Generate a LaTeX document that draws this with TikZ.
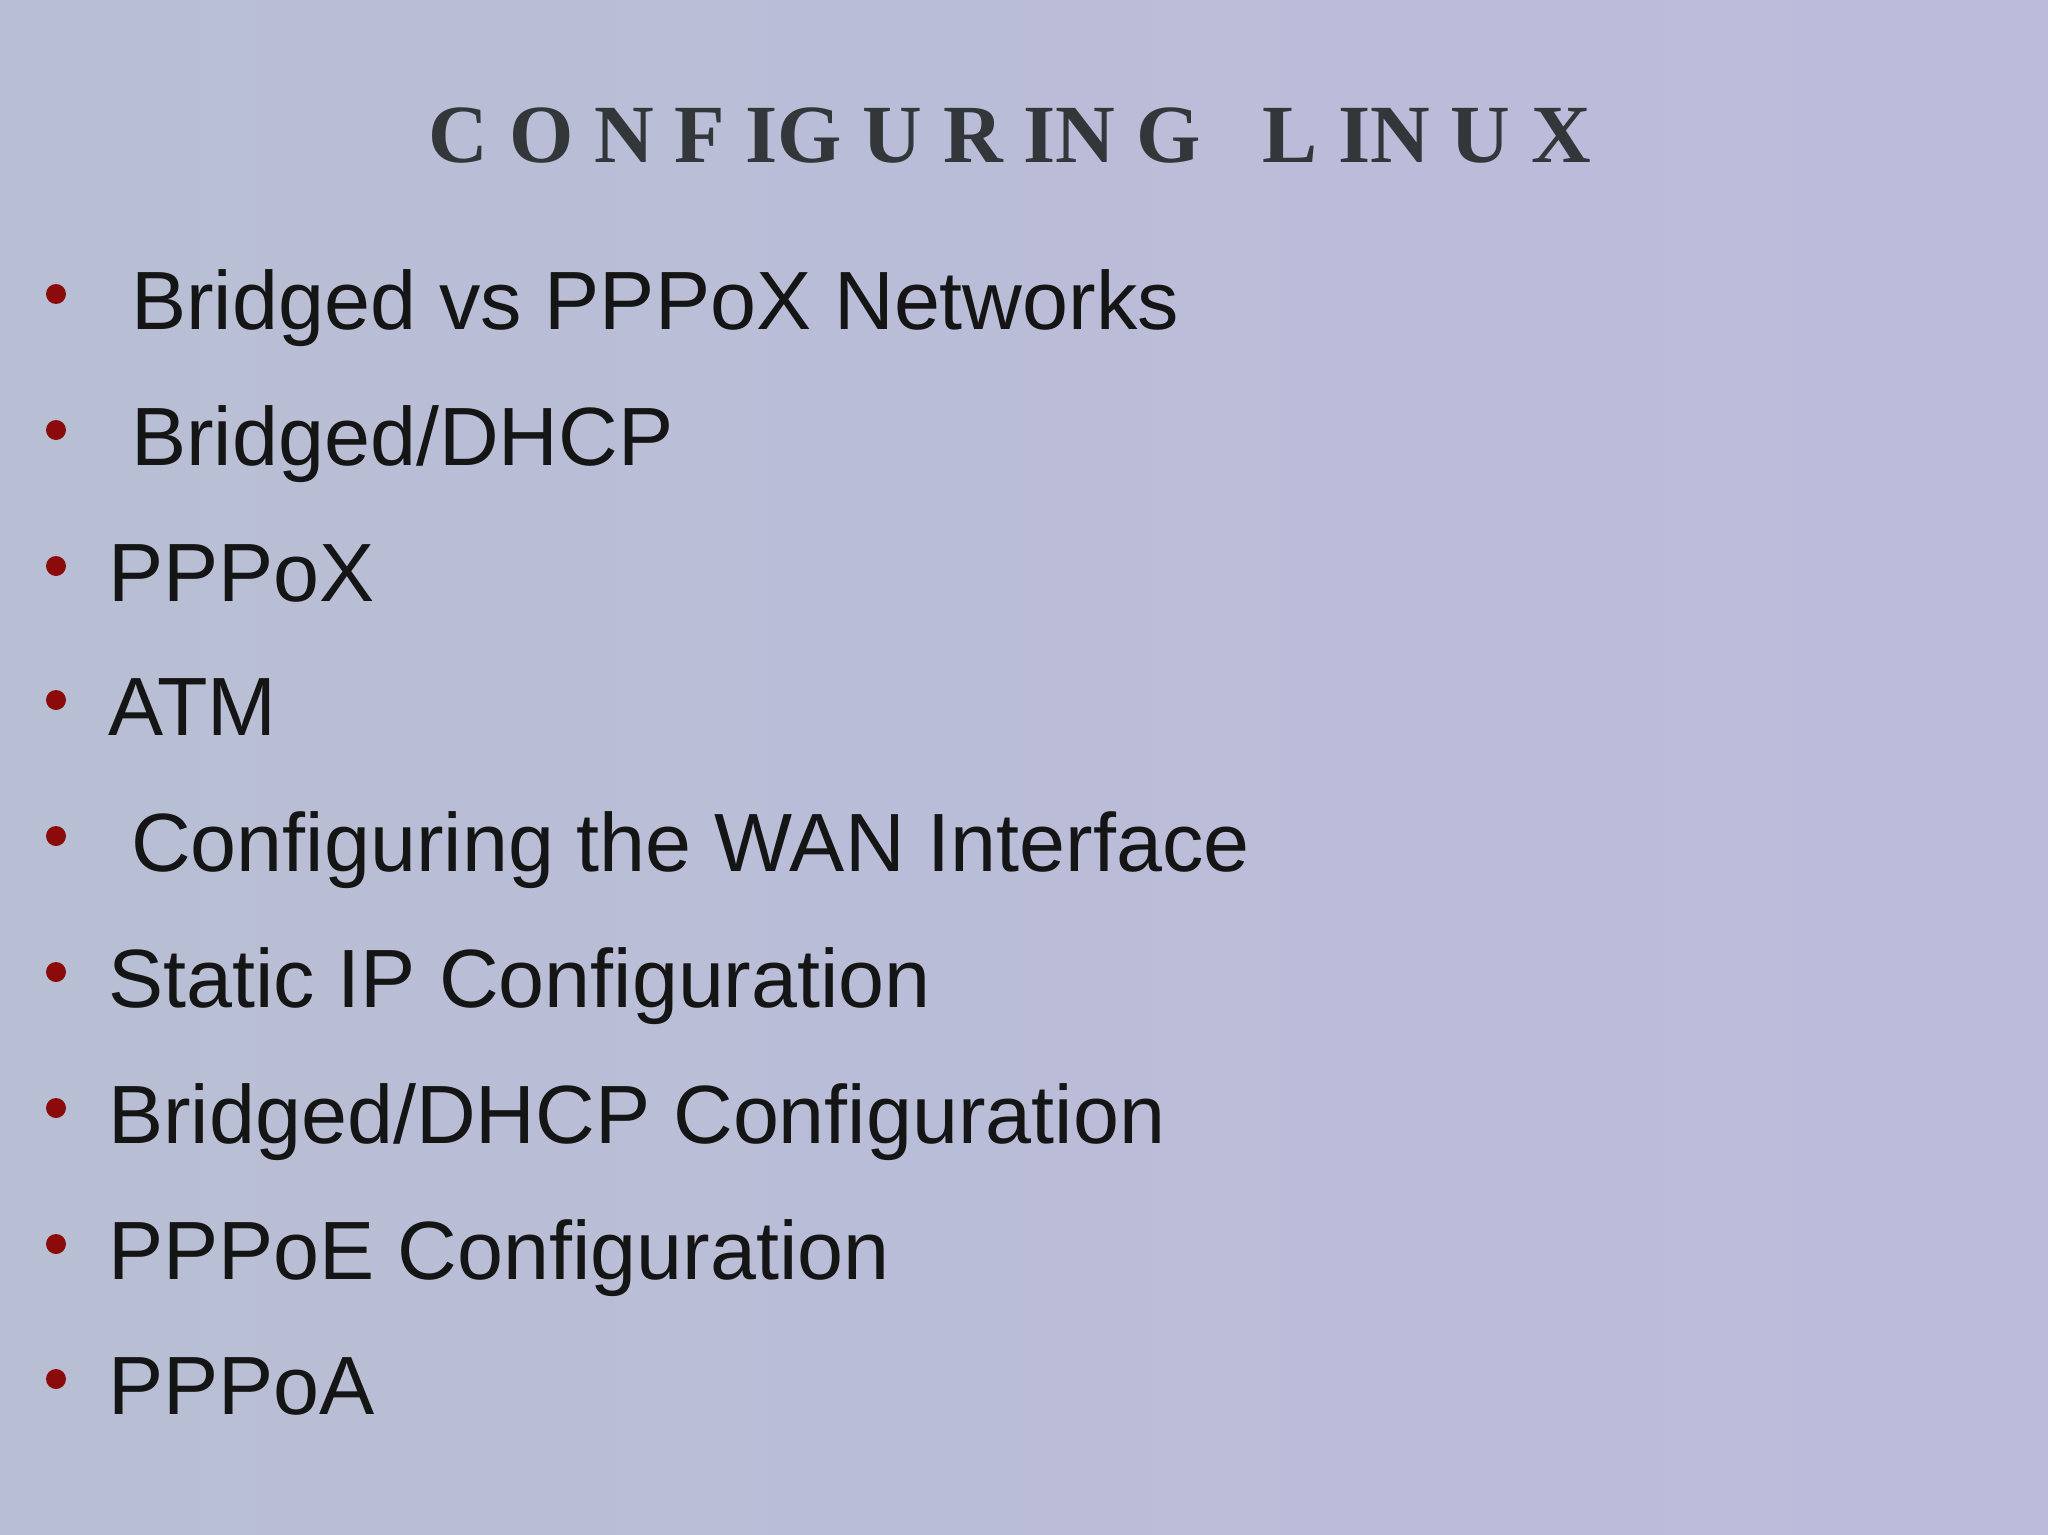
\documentclass[tikz,border=0pt]{standalone}
\usepackage{fontspec}
\setmainfont{Liberation Sans}
\newfontfamily\titlefont{Liberation Serif}
\definecolor{bgA}{HTML}{B8BFD4}
\definecolor{bgB}{HTML}{BDBBDC}
\definecolor{bul}{HTML}{8B0A0A}
\definecolor{txt}{HTML}{151515}
\definecolor{ttl}{HTML}{34373A}
\begin{document}
\begin{tikzpicture}[x=1bp,y=-1bp,
  item/.style={anchor=base west,inner sep=0pt,text=txt,font=\fontsize{83}{92}\selectfont},
  dot/.style={circle,fill=bul,inner sep=0pt,minimum size=20bp}]
\shade[left color=bgA,right color=bgB] (0,0) rectangle (2048,1535);
\useasboundingbox (0,0) rectangle (2048,1535);
\node[anchor=base,inner sep=0pt,text=ttl,font=\titlefont\bfseries\fontsize{83}{90}\selectfont] (title) at (1010,163) {C O N F IG U R IN G\ \ \ L IN U X};
\foreach \i/\y/\x/\t in {1/329/131/Bridged vs PPPoX Networks,2/465/131/Bridged\slash DHCP,3/601/108/PPPoX,4/735/108/ATM,5/871/131/Configuring the WAN Interface,6/1007/108/Static IP Configuration,7/1143/108/Bridged\slash DHCP Configuration,8/1279/108/PPPoE Configuration,9/1414/108/PPPoA}{
  \node[dot] (b\i) at (56,\y-35) {};
  \node[item] (t\i) at (\x,\y) {\t};
}
\end{tikzpicture}
\end{document}
